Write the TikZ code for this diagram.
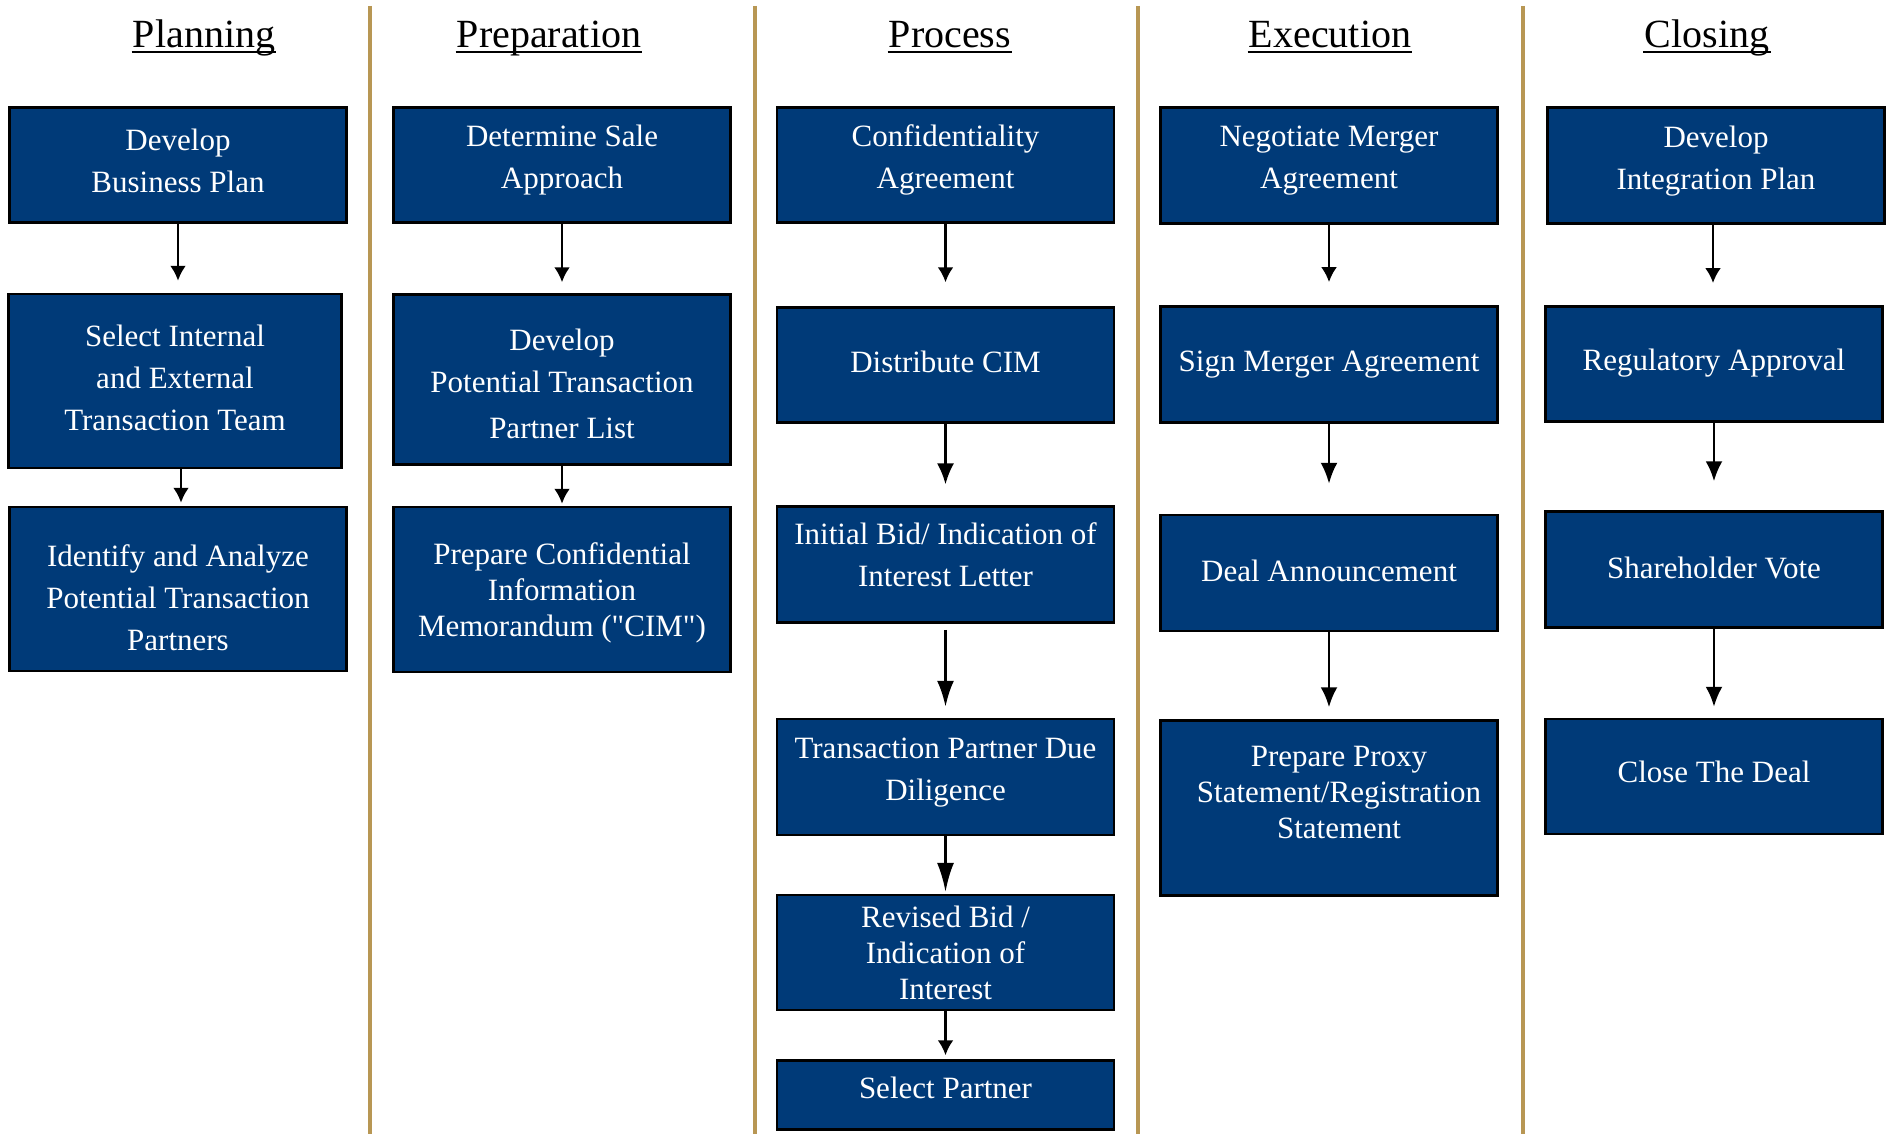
\documentclass[tikz,border=0pt]{standalone}
\usepackage{fontspec}
\setmainfont{Liberation Serif}
\usepackage{tikz}
\usetikzlibrary{arrows.meta}
\definecolor{boxblue}{RGB}{0,58,120}
\definecolor{gold}{RGB}{184,151,84}
\tikzset{
  stage/.style={draw=black, line width=2.5pt, fill=boxblue, minimum width=337pt, inner sep=0pt},
  lbl/.style={text=white, align=center, font=\fontsize{31}{42}\selectfont},
  tight/.style={font=\fontsize{31}{36}\selectfont},
  head/.style={anchor=base, inner sep=0pt, font=\fontsize{40}{48}\selectfont},
  lane/.style={gold, line width=3.5pt},
  longtip/.style={-{Latex[length=#1, width=17pt]}}
}

\begin{document}
\begin{tikzpicture}[x=1pt,y=-1pt,>={Latex[length=15pt,width=16pt]},line width=2.6pt]
\useasboundingbox (0,0) rectangle (1892,1134);

% lane separators
\draw[lane] (370,6) -- (370,1134);
\draw[lane] (755,6) -- (755,1134);
\draw[lane] (1138,6) -- (1138,1134);
\draw[lane] (1523,6) -- (1523,1134);

% headings
\node[head] (hplan) at (204,48) {Planning};
\node[head] (hprep) at (549,48) {Preparation};
\node[head] (hproc) at (950,48) {Process};
\node[head] (hexec) at (1330,48) {Execution};
\node[head] (hclose) at (1707,48) {Closing};
\foreach \h in {hplan,hprep,hproc,hexec,hclose}
  \draw[line width=1.8pt] ([yshift=-4pt]\h.base west) -- ([yshift=-4pt]\h.base east);

% Planning
\node[stage, minimum height=115pt, label={[lbl,yshift=4pt]center:{Develop\\Business Plan}}] (plan1) at (178,165) {};
\node[stage, minimum width=333pt, minimum height=174pt, label={[lbl,yshift=3pt]center:{Select Internal\\and External\\Transaction Team}}] (plan2) at (175,381) {};
\node[stage, minimum height=164pt, label={[lbl,yshift=-9pt]center:{Identify and Analyze\\Potential Transaction\\Partners}}] (plan3) at (178,589) {};
\draw[->, shorten >=12pt] (plan1.south) -- (plan1.south |- plan2.north);
\draw[->, shorten >=3pt] ([xshift=6pt]plan2.south) -- ([xshift=6pt]plan2.south |- plan3.north);

% Preparation
\node[stage, minimum height=115pt, label={[lbl,yshift=5pt]center:{Determine Sale\\Approach}}] (prep1) at (562,165) {};
\node[stage, minimum height=170pt, label={[lbl,yshift=-4pt]center:{Develop\\Potential Transaction\\[4pt]Partner List}}] (prep2) at (562,379.5) {};
\node[stage, minimum height=165pt, label={[lbl,tight,yshift=-3pt]center:{Prepare Confidential\\Information\\Memorandum (\textquotedbl CIM\textquotedbl)}}] (prep3) at (562,589.5) {};
\draw[->, shorten >=11pt] (prep1.south) -- (prep1.south |- prep2.north);
\draw[->, shorten >=2pt] (prep2.south) -- (prep2.south |- prep3.north);

% Process
\node[stage, minimum height=115pt, label={[lbl,yshift=5pt]center:{Confidentiality\\Agreement}}] (proc1) at (945.5,165) {};
\node[stage, minimum height=115pt, label={[lbl,yshift=3pt]center:{Distribute CIM}}] (proc2) at (945.5,365) {};
\node[stage, minimum height=116pt, label={[lbl,yshift=10pt]center:{Initial Bid/ Indication of\\Interest Letter}}] (proc3) at (945.5,564.7) {};
\node[stage, minimum height=116pt, label={[lbl,yshift=4pt]center:{Transaction Partner Due\\Diligence}}] (proc4) at (945.5,777) {};
\node[stage, minimum height=115pt, label={[lbl,tight]center:{Revised Bid /\\Indication of\\Interest}}] (proc5) at (945.5,952.6) {};
\node[stage, minimum height=69pt, label={[lbl,yshift=7pt]center:{Select Partner}}] (proc6) at (945.5,1095) {};
\draw[->, shorten >=24pt] (proc1.south) -- (proc1.south |- proc2.north);
\draw[longtip=21pt, shorten >=21pt] (proc2.south) -- (proc2.south |- proc3.north);
\draw[longtip=26pt, shorten <=6pt, shorten >=11pt] (proc3.south) -- (proc3.south |- proc4.north);
\draw[longtip=29pt, shorten >=2pt] (proc4.south) -- (proc4.south |- proc5.north);
\draw[->, shorten >=4pt] (proc5.south) -- (proc5.south |- proc6.north);

% Execution
\node[stage, minimum height=116pt, label={[lbl,yshift=5pt]center:{Negotiate Merger\\Agreement}}] (exec1) at (1329,165.3) {};
\node[stage, minimum height=116pt, label={[lbl,yshift=0pt]center:{Sign Merger Agreement}}] (exec2) at (1329,364.4) {};
\node[stage, minimum height=116pt, label={[lbl,yshift=2pt]center:{Deal Announcement}}] (exec3) at (1329,573) {};
\node[stage, minimum height=175pt, label={[lbl,tight,xshift=10pt,yshift=16pt]center:{Prepare Proxy\\Statement/Registration\\Statement}}] (exec4) at (1329,808) {};
\draw[->, shorten >=23pt] (exec1.south) -- (exec1.south |- exec2.north);
\draw[longtip=21pt, shorten >=30pt] (exec2.south) -- (exec2.south |- exec3.north);
\draw[longtip=20pt, shorten >=12pt] (exec3.south) -- (exec3.south |- exec4.north);

% Closing
\node[stage, minimum height=116pt, label={[lbl,yshift=4pt]center:{Develop\\Integration Plan}}] (close1) at (1716,165.3) {};
\node[stage, minimum height=115pt, label={[lbl,yshift=1pt]center:{Regulatory Approval}}] (close2) at (1714,363.8) {};
\node[stage, minimum height=116pt, label={[lbl,yshift=2pt]center:{Shareholder Vote}}] (close3) at (1714,569.5) {};
\node[stage, minimum height=115pt, label={[lbl,yshift=5pt]center:{Close The Deal}}] (close4) at (1714,776.5) {};
\draw[->, shorten >=22pt] ([xshift=-3pt]close1.south) -- ([xshift=-3pt]close1.south |- close2.north);
\draw[longtip=20pt, shorten >=29pt] (close2.south) -- (close2.south |- close3.north);
\draw[longtip=20pt, shorten >=11pt] (close3.south) -- (close3.south |- close4.north);
\end{tikzpicture}
\end{document}
